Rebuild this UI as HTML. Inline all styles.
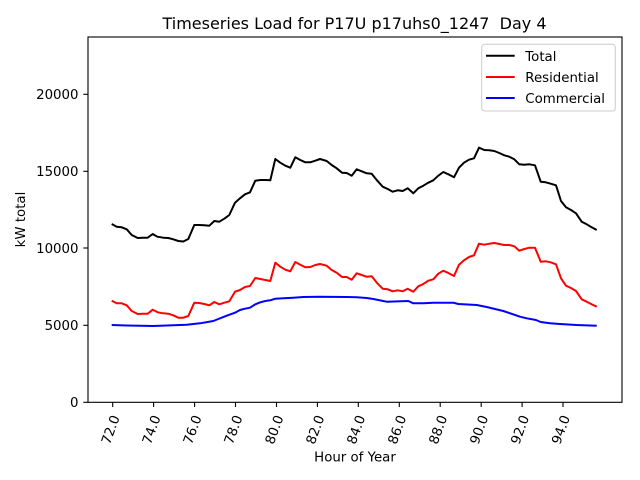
<!DOCTYPE html>
<html><head><meta charset="utf-8"><style>
html,body{margin:0;padding:0;background:#fff;}
svg{display:block;}
text{font-family:"DejaVu Sans","Liberation Sans",sans-serif;fill:#000;}
</style></head><body>
<svg width="640" height="480" viewBox="0 0 640 480" xmlns="http://www.w3.org/2000/svg">
<rect x="0" y="0" width="640" height="480" fill="#fff"/>
<text x="354.5" y="29" font-size="16" text-anchor="middle" style="white-space:pre" xml:space="preserve">Timeseries Load for P17U p17uhs0_1247  Day 4</text>
<g stroke-width="2" fill="none" stroke-linejoin="round" stroke-linecap="butt">
<polyline stroke="#000" points="111.7,224 116.7,226.7 121.7,227.3 126.7,229.3 131.7,235 137.7,238 142.7,237.7 147.7,237.7 152.7,234 157.3,236.7 163.3,237.7 168.3,238 173.3,239.3 178.3,241 183.3,241.5 188.3,239 194.3,225 199.3,225 204.3,225.3 209.3,225.7 214.3,221 219.3,221.7 224.3,218.7 229.3,215 235,202.7 240,198.3 245,194.3 250,192.3 255.3,180.7 260.3,180 265.3,180 270.3,180.3 275.3,159 280.3,162.7 285.3,165.7 290.3,167.7 295.3,157.3 300.3,160 305.3,162.3 310.3,162.3 315.3,160.7 320,159 326.7,161 331.7,165 336.7,168.3 342,172.7 346.7,173 351.7,175.7 356.7,169.3 361.7,171.3 366.7,173.3 371.7,173.7 377.3,180.7 382.7,186.7 387.7,189 392.7,191.7 397.7,190.3 402.7,191 407.7,188.3 413.3,193.3 418.3,188.3 423.3,185.7 428.3,182.7 433.3,180.3 438.3,175.7 443.3,172 448.3,174.3 454,177.3 459,167.7 464,162.7 469,159.7 474,158.3 479,147.7 484.3,150 489.3,150.3 494.3,151 499.3,153 504.3,155.3 509.3,156.7 514.3,159.3 519.3,164.3 524.3,164.7 529.3,164.3 535,165.3 540.7,181.7 545.7,182.3 550.7,183.7 556,185.3 561,201 566,207.3 571,210 576,213.3 581.7,221.7 586.7,224.3 591.7,227.3 596.7,230"/>
<polyline stroke="#ff0000" points="111.7,300.7 116.7,303.3 121.7,303.3 126.7,305.3 131.7,311 137.7,314 142.7,313.7 147.7,313.7 152.7,309.7 157.7,312.3 163.3,313.3 168.3,313.7 173.3,315.3 178.3,317.7 183.3,317.7 188.3,316 194.3,302.7 199.3,303 204.3,304 209.3,305.3 214.3,302 219.3,304.3 224.3,302.7 229.3,301.3 235,291.7 240,290 245,287 250,286 255.3,278 260.3,279 265.3,280 270.3,281 275.3,262.7 280.3,266.7 285.3,269.7 290.3,271.3 295.3,262 300.3,264.7 305.3,267.3 310.3,267 315.3,265 320,264 326.7,265.7 331.7,270 336.7,272.7 342,277 346.7,277 351.7,279.7 356.7,273.3 361.7,275 366.7,276.7 371.7,276.3 377.3,283.3 382.7,288.7 387.7,289.3 392.7,291.3 397.7,290.3 402.7,291.3 407.7,288.7 413.3,291.7 418.3,286.3 423.3,284 428.3,280.7 433.3,279.3 438.3,273.7 443.3,270.7 448.3,273 454,276 459,264.7 464,260.3 469,257 474,255.3 479,243.7 484.3,244.7 489.3,243.7 494.3,243 499.3,244 504.3,245 509.3,245 514.3,246.3 519.3,250.7 524.3,249 529.3,247.7 535,247.7 540.7,261.7 545.7,261.3 550.7,262.3 556,264.3 561,278.3 566,285.7 571,288 576,291 581.7,299.3 586.7,301.7 591.7,304.3 596.7,306.7"/>
<polyline stroke="#0000ff" points="111.7,325 126.7,325.5 153.3,326 173.3,325.3 186.7,324.7 200,323.3 213.3,321 226.7,315.7 235,312.7 240,310 245,308.7 250,307.7 255.3,304.3 260.3,302.3 265.3,301 270.3,300.3 275.3,298.7 283.3,298.3 293.3,297.7 303.3,297 319.3,296.7 346.7,297 356.7,297.3 366.7,298 373.3,299 386.7,301.7 408.3,301 413.3,303.3 423.3,303.3 433.3,302.7 453.3,302.7 458.3,304 476.7,305 486.7,307 503.3,311 520,316.7 526.7,318.3 536,320 540.7,322 550,323.3 560,324 576.7,325 596.7,325.7"/>
</g>
<rect x="88" y="37" width="534" height="365.3" fill="none" stroke="#000" stroke-width="1.1"/>
<g stroke="#000" stroke-width="1.1">
<line x1="83.3" y1="402.3" x2="88" y2="402.3"/>
<line x1="83.3" y1="325.3" x2="88" y2="325.3"/>
<line x1="83.3" y1="248" x2="88" y2="248"/>
<line x1="83.3" y1="171.3" x2="88" y2="171.3"/>
<line x1="83.3" y1="94.3" x2="88" y2="94.3"/>
<line x1="112.7" y1="402.3" x2="112.7" y2="407"/>
<line x1="153.6" y1="402.3" x2="153.6" y2="407"/>
<line x1="194.6" y1="402.3" x2="194.6" y2="407"/>
<line x1="235.5" y1="402.3" x2="235.5" y2="407"/>
<line x1="276.5" y1="402.3" x2="276.5" y2="407"/>
<line x1="317.4" y1="402.3" x2="317.4" y2="407"/>
<line x1="358.3" y1="402.3" x2="358.3" y2="407"/>
<line x1="399.3" y1="402.3" x2="399.3" y2="407"/>
<line x1="440.2" y1="402.3" x2="440.2" y2="407"/>
<line x1="481.2" y1="402.3" x2="481.2" y2="407"/>
<line x1="522.1" y1="402.3" x2="522.1" y2="407"/>
<line x1="563" y1="402.3" x2="563" y2="407"/>
</g>
<g font-size="13.33" text-anchor="end">
<text x="78.5" y="407.1">0</text>
<text x="78.5" y="330.1">5000</text>
<text x="78.5" y="252.8">10000</text>
<text x="78.5" y="176.1">15000</text>
<text x="78.5" y="99.1">20000</text>
</g>
<g font-size="13.33" text-anchor="middle" dominant-baseline="central">
<text transform="translate(111.5,430) rotate(-70)">72.0</text>
<text transform="translate(152.4,430) rotate(-70)">74.0</text>
<text transform="translate(193.4,430) rotate(-70)">76.0</text>
<text transform="translate(234.3,430) rotate(-70)">78.0</text>
<text transform="translate(275.3,430) rotate(-70)">80.0</text>
<text transform="translate(316.2,430) rotate(-70)">82.0</text>
<text transform="translate(357.1,430) rotate(-70)">84.0</text>
<text transform="translate(398.1,430) rotate(-70)">86.0</text>
<text transform="translate(439,430) rotate(-70)">88.0</text>
<text transform="translate(480,430) rotate(-70)">90.0</text>
<text transform="translate(520.9,430) rotate(-70)">92.0</text>
<text transform="translate(561.8,430) rotate(-70)">94.0</text>
</g>
<text x="355" y="461.5" font-size="13.33" text-anchor="middle">Hour of Year</text>
<text transform="translate(25,219.5) rotate(-90)" font-size="13.33" text-anchor="middle">kW total</text>
<rect x="481.7" y="44.3" width="133.6" height="66.7" rx="3" ry="3" fill="#fff" fill-opacity="0.8" stroke="#cccccc" stroke-width="1"/>
<g stroke-width="2">
<line x1="486" y1="55.7" x2="514.7" y2="55.7" stroke="#000"/>
<line x1="486" y1="77" x2="514.7" y2="77" stroke="#ff0000"/>
<line x1="486" y1="98" x2="514.7" y2="98" stroke="#0000ff"/>
</g>
<g font-size="13.33">
<text x="525.3" y="60.8">Total</text>
<text x="525.3" y="82.1">Residential</text>
<text x="525.3" y="103.2">Commercial</text>
</g>
</svg>
</body></html>
